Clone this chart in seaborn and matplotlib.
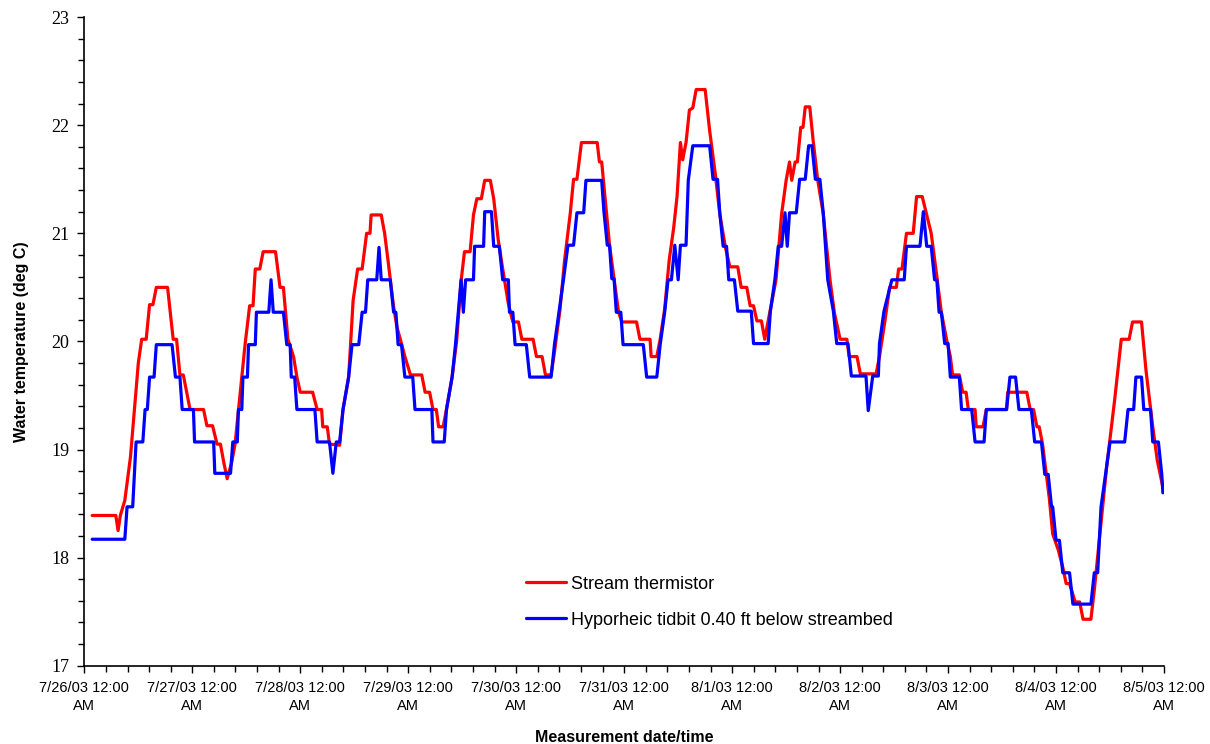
import matplotlib

matplotlib.use("Agg")

import matplotlib.dates as mdates
import matplotlib.pyplot as plt
import numpy as np
import pandas as pd
import seaborn as sns
from matplotlib.ticker import FuncFormatter, MultipleLocator

START = pd.Timestamp("2003-07-26 00:00")
END = pd.Timestamp("2003-08-05 00:00")

# hours after 7/26/03 00:00 and temperature (deg C)
stream_hours = [
    1.75, 7.0, 7.5, 8.0, 9.0, 10.25, 11.25, 12.0, 12.75, 13.75, 14.5, 15.25, 16.0, 18.5,
    19.75, 20.5, 21.25, 22.0, 22.75, 23.5, 26.5, 27.25, 28.5, 29.5, 30.25, 31.0, 31.75,
    32.75, 33.5, 34.25, 35.0, 35.75, 36.5, 36.75, 37.5, 38.0, 39.0, 39.75, 42.5, 43.5,
    44.25, 45.25, 46.5, 47.25, 48.0, 50.75, 51.75, 52.75, 53.0, 54.0, 54.5, 56.75, 57.5,
    58.75, 59.75, 60.75, 61.75, 62.75, 63.5, 63.75, 66.0, 66.75, 67.5, 68.75, 69.5, 70.5,
    71.25, 72.5, 75.0, 75.75, 76.75, 77.5, 78.25, 78.75, 79.75, 80.5, 81.75, 82.75, 83.75,
    84.5, 85.75, 86.5, 87.25, 88.25, 89.0, 90.25, 91.0, 92.0, 93.0, 94.25, 95.25, 96.5,
    97.25, 99.75, 100.5, 101.75, 102.5, 103.75, 104.5, 105.75, 106.75, 108.0, 108.75,
    109.5, 110.5, 114.0, 114.5, 115.0, 116.75, 117.75, 118.75, 119.5, 122.75, 123.5,
    125.75, 126.0, 127.25, 128.0, 129.0, 130.0, 131.0, 131.75, 132.5, 133.0, 133.75,
    134.5, 135.25, 136.0, 138.0, 139.0, 140.25, 141.25, 142.5, 143.5, 145.25, 146.0,
    147.25, 148.0, 148.75, 149.5, 150.5, 151.25, 152.0, 152.75, 153.75, 155.0, 156.0,
    156.75, 157.25, 158.0, 158.5, 159.25, 159.75, 160.25, 161.25, 162.0, 163.0, 164.25,
    165.0, 165.75, 166.75, 168.0, 169.5, 170.0, 171.75, 172.5, 176.0, 176.75, 178.0,
    179.0, 180.5, 181.0, 181.75, 182.75, 184.25, 185.0, 186.25, 187.25, 188.25, 189.5,
    190.5, 191.75, 192.5, 193.0, 194.5, 195.25, 196.0, 196.5, 198.0, 198.25, 199.75,
    200.5, 205.0, 205.25, 209.5, 210.25, 211.0, 211.75, 212.25, 213.0, 213.75, 214.5,
    215.25, 216.5, 217.5, 218.25, 219.0, 220.25, 221.25, 222.0, 223.75, 224.5, 225.75,
    227.25, 229.0, 230.5, 232.25, 233.0, 235.0, 236.0, 237.5, 238.5, 239.75,
]
stream_temp = [
    18.39, 18.39, 18.25, 18.39, 18.53, 18.93, 19.43, 19.80, 20.02, 20.02, 20.34, 20.34, 20.50, 20.50,
    20.02, 20.02, 19.69, 19.69, 19.53, 19.37, 19.37, 19.22, 19.22, 19.05, 19.05, 18.88, 18.73,
    18.88, 19.05, 19.36, 19.67, 19.98, 20.24, 20.33, 20.33, 20.67, 20.67, 20.83, 20.83, 20.50,
    20.50, 20.02, 19.86, 19.67, 19.53, 19.53, 19.37, 19.37, 19.21, 19.21, 19.05, 19.04, 19.37,
    19.67, 20.38, 20.67, 20.67, 21.00, 21.00, 21.17, 21.17, 21.00, 20.75, 20.32, 20.13, 19.98,
    19.86, 19.69, 19.69, 19.53, 19.53, 19.37, 19.37, 19.21, 19.21, 19.37, 19.67, 20.00, 20.56,
    20.83, 20.83, 21.17, 21.32, 21.32, 21.49, 21.49, 21.32, 20.94, 20.67, 20.35, 20.18, 20.18,
    20.02, 20.02, 19.86, 19.86, 19.69, 19.69, 19.90, 20.30, 20.75, 21.18, 21.50,
    21.50, 21.84, 21.84, 21.66, 21.66, 20.89, 20.58, 20.27, 20.18, 20.18, 20.02,
    20.02, 19.86, 19.86, 20.02, 20.30, 20.75, 21.05, 21.34, 21.84, 21.68, 21.84,
    22.14, 22.16, 22.33, 22.33, 21.95, 21.55, 21.18, 20.87, 20.69, 20.69, 20.50,
    20.50, 20.33, 20.33, 20.19, 20.19, 20.02, 20.19, 20.35, 20.57, 21.18, 21.49,
    21.66, 21.49, 21.66, 21.66, 21.98, 21.98, 22.17, 22.17, 21.86, 21.50, 21.18,
    20.87, 20.57, 20.26, 20.02, 20.02, 19.86, 19.86, 19.70, 19.70, 19.86, 20.20,
    20.50, 20.50, 20.67, 20.67, 21.00, 21.00, 21.34, 21.34, 21.17, 21.00, 20.60,
    20.27, 20.00, 19.86, 19.69, 19.69, 19.53, 19.53, 19.37, 19.37, 19.21, 19.21,
    19.37, 19.37, 19.53, 19.53, 19.37, 19.37, 19.21, 19.21, 19.05, 18.80, 18.55,
    18.22, 18.07, 17.91, 17.76, 17.76, 17.59, 17.59, 17.43, 17.43, 17.70, 18.22,
    18.84, 19.45, 20.02, 20.02, 20.18, 20.18, 19.73, 19.21, 18.90, 18.65,
]

tidbit_hours = [
    1.75, 9.0, 9.5, 10.75, 11.5, 13.0, 13.5, 14.0, 14.5, 15.5, 16.0, 19.5, 20.25, 21.25,
    21.75, 24.25, 24.5, 28.75, 29.0, 32.5, 33.0, 34.0, 34.25, 35.0, 35.25, 36.25, 36.5,
    38.0, 38.25, 41.0, 41.5, 42.0, 44.25, 45.0, 45.75, 46.0, 46.75, 47.25, 51.25, 51.75,
    54.5, 55.25, 56.0, 56.75, 57.5, 58.75, 59.5, 61.0, 61.75, 62.5, 63.0, 65.0, 65.5, 66.0,
    68.0, 68.75, 69.25, 69.75, 70.5, 71.25, 73.0, 73.5, 77.25, 77.5, 80.0, 80.5, 81.75,
    82.5, 83.75, 84.25, 84.75, 86.5, 86.75, 88.75, 89.0, 90.5, 91.0, 92.25, 93.0, 94.25,
    94.5, 95.25, 95.75, 98.25, 99.0, 103.75, 104.5, 105.5, 106.5, 107.5, 108.75, 109.5,
    111.0, 111.5, 115.0, 115.5, 116.25, 116.75, 117.25, 117.75, 118.25, 119.25, 119.75,
    124.25, 125.0, 127.25, 128.0, 129.0, 129.75, 130.5, 131.25, 132.0, 132.5, 133.75,
    134.25, 135.25, 139.0, 139.75, 140.75, 141.25, 142.0, 142.75, 143.25, 144.5, 145.25,
    148.25, 148.75, 152.0, 152.5, 153.5, 154.25, 155.0, 155.75, 156.25, 156.75, 158.25,
    159.0, 160.25, 161.0, 161.75, 162.5, 163.5, 164.25, 165.25, 166.5, 167.25, 169.75,
    170.5, 173.75, 174.25, 175.25, 176.5, 176.75, 177.75, 179.5, 182.25, 182.75, 185.75,
    186.5, 187.25, 188.25, 189.0, 189.5, 190.0, 190.5, 191.25, 192.0, 192.5, 194.5, 195.0,
    197.25, 198.0, 200.0, 200.5, 205.0, 205.75, 207.0, 207.75, 210.5, 211.25, 212.75,
    213.5, 214.25, 215.0, 215.25, 216.0, 216.75, 217.5, 219.0, 219.75, 223.75, 224.5,
    225.25, 226.0, 227.0, 228.0, 231.25, 232.0, 233.25, 233.75, 235.0, 235.5, 237.0,
    237.5, 238.75, 239.5, 239.75,
]
tidbit_temp = [
    18.17, 18.17, 18.47, 18.47, 19.07, 19.07, 19.37, 19.37, 19.67, 19.67, 19.97, 19.97, 19.67, 19.67,
    19.37, 19.37, 19.07, 19.07, 18.78, 18.78, 19.07, 19.07, 19.37, 19.37, 19.67, 19.67, 19.97,
    19.97, 20.27, 20.27, 20.57, 20.27, 20.27, 19.97, 19.97, 19.67, 19.67, 19.37, 19.37, 19.07,
    19.07, 18.78, 19.07, 19.07, 19.37, 19.67, 19.97, 19.97, 20.27, 20.27, 20.57, 20.57, 20.87, 20.57,
    20.57, 20.27, 20.27, 19.97, 19.97, 19.67, 19.67, 19.37, 19.37, 19.07, 19.07, 19.37, 19.67,
    19.97, 20.57, 20.27, 20.57, 20.57, 20.88, 20.88, 21.20, 21.20, 20.88, 20.88, 20.57, 20.57,
    20.27, 20.27, 19.97, 19.97, 19.67, 19.67, 19.97, 20.27, 20.57, 20.89, 20.89, 21.19,
    21.19, 21.49, 21.49, 21.20, 20.89, 20.89, 20.58, 20.58, 20.27, 20.27, 19.97,
    19.97, 19.67, 19.67, 19.97, 20.27, 20.57, 20.57, 20.89, 20.57, 20.89, 20.89,
    21.49, 21.81, 21.81, 21.50, 21.50, 21.19, 20.88, 20.88, 20.57, 20.57, 20.28,
    20.28, 19.98, 19.98, 20.28, 20.57, 20.88, 20.88, 21.19, 20.88, 21.19, 21.19,
    21.50, 21.50, 21.81, 21.81, 21.50, 21.50, 21.19, 20.57, 20.28, 19.98, 19.98,
    19.68, 19.68, 19.36, 19.68, 19.68, 19.98, 20.28, 20.57, 20.57, 20.88, 20.88,
    21.20, 20.88, 20.88, 20.57, 20.57, 20.27, 20.27, 19.98, 19.98, 19.67, 19.67, 19.37,
    19.37, 19.07, 19.07, 19.37, 19.37, 19.67, 19.67, 19.37, 19.37, 19.07, 19.07,
    18.77, 18.77, 18.47, 18.47, 18.16, 18.16, 17.86, 17.86, 17.57, 17.57, 17.86,
    17.86, 18.47, 18.77, 19.07, 19.07, 19.37, 19.37, 19.67, 19.67, 19.37, 19.37,
    19.07, 19.07, 18.77, 18.60,
]

series_names = ["Stream thermistor", "Hyporheic tidbit 0.40 ft below streambed"]
series_colors = ["#FF0000", "#0000FF"]

frames = []
for name, hours, temps in [
    (series_names[0], stream_hours, stream_temp),
    (series_names[1], tidbit_hours, tidbit_temp),
]:
    frames.append(pd.DataFrame({
        "time": START + pd.to_timedelta(np.array(hours), unit="h"),
        "temp": temps,
        "series": name,
    }))
data = pd.concat(frames, ignore_index=True)

sns.set_style("ticks")
plt.rcParams["font.family"] = ["Liberation Sans", "DejaVu Sans"]
plt.rcParams["text.color"] = "black"
plt.rcParams["axes.labelcolor"] = "black"
plt.rcParams["xtick.color"] = "black"
plt.rcParams["ytick.color"] = "black"

fig = plt.figure(figsize=(12.1, 7.44), dpi=100)
ax = fig.add_axes([0.0697, 0.1052, 0.8923, 0.8718])

sns.lineplot(
    data=data, x="time", y="temp", hue="series", hue_order=series_names,
    palette=series_colors, linewidth=2.3, estimator=None, sort=False, ax=ax,
)

ax.set_xlim(START, END)
ax.set_ylim(17, 23)
ax.xaxis.set_major_locator(mdates.DayLocator())
ax.xaxis.set_minor_locator(MultipleLocator(0.2))


def _date_label(value, pos):
    d = mdates.num2date(value)
    return f"{d.month}/{d.day}/{d:%y} 12:00\nAM"


ax.xaxis.set_major_formatter(FuncFormatter(_date_label))
ax.yaxis.set_major_locator(MultipleLocator(1))
ax.yaxis.set_minor_locator(MultipleLocator(0.2))
ax.tick_params(axis="x", which="major", labelsize=10.5, length=5, width=1, pad=6)
ax.tick_params(axis="x", which="minor", length=4, width=1)
ax.tick_params(axis="y", which="major", labelsize=13, labelfontfamily="Liberation Serif",
               length=5, width=1, pad=6)
ax.tick_params(axis="y", which="minor", length=4, width=1)

sns.despine(ax=ax)
for side in ["left", "bottom"]:
    ax.spines[side].set_color("black")
    ax.spines[side].set_linewidth(1.2)

ax.set_xlabel("Measurement date/time", fontsize=11.5, fontweight="bold", labelpad=12)
ax.set_ylabel("Water temperature (deg C)", fontsize=11.5, fontweight="bold", labelpad=16)

handles, labels = ax.get_legend_handles_labels()
ax.legend(
    handles, labels, loc="center left", bbox_to_anchor=(0.435, 0.1905),
    bbox_transform=fig.transFigure, frameon=False, fontsize=13, handlelength=2.2,
    handletextpad=0.25, labelspacing=1.05, borderpad=0, borderaxespad=0,
)

fig.canvas.draw()
for lab in ax.get_xticklabels():
    lab.set_multialignment("center")
    lab.set_linespacing(1.4)

fig.savefig("out.png", dpi=100, facecolor="white")
plt.close(fig)
